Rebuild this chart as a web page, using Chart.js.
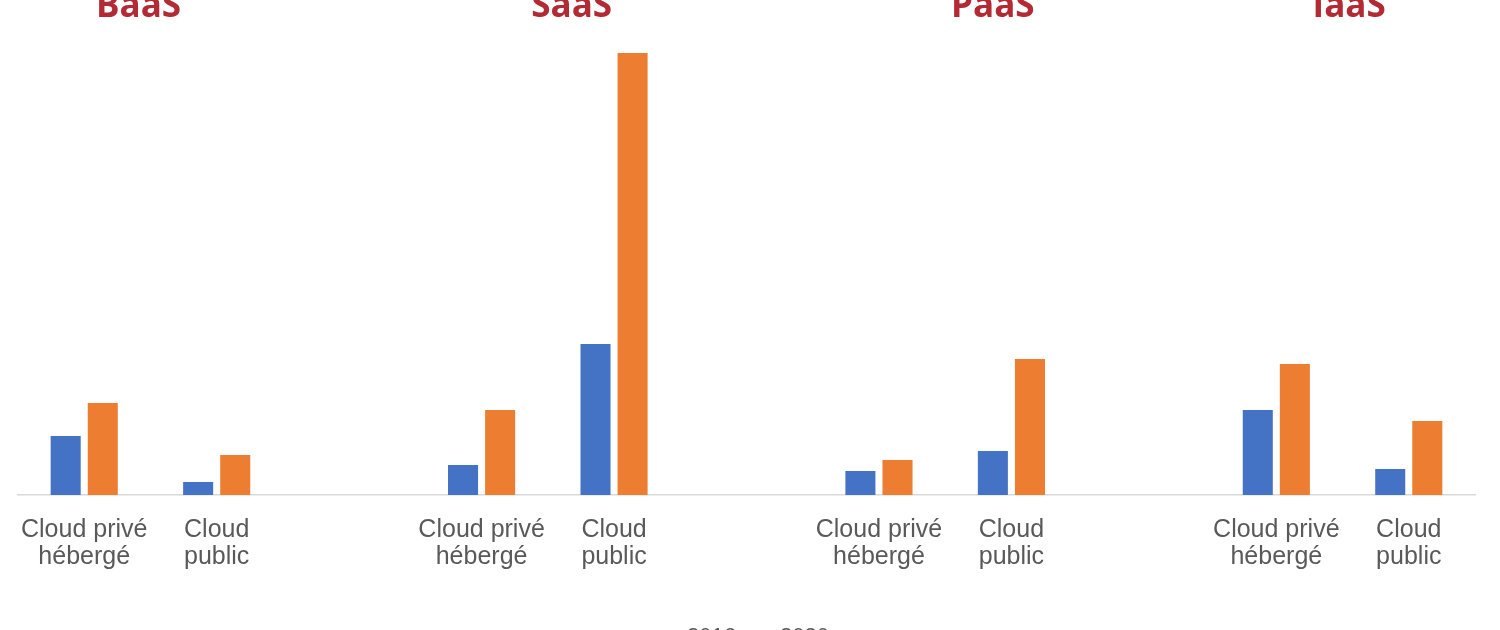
<!DOCTYPE html>
<html>
<head>
<meta charset="utf-8">
<script src="https://cdn.jsdelivr.net/npm/chart.js@4"></script>
<style>
  html, body { margin: 0; padding: 0; background: #fff; overflow: hidden; height: 630px; }
  .wrap { position: relative; width: 1500px; height: 658px; }
</style>
</head>
<body>
<div class="wrap"><canvas id="chart"></canvas></div>
<script>
// Categories (empty slots separate the four service groups)
const categories = [
  ["Cloud privé", "hébergé"], ["Cloud", "public"], "",
  ["Cloud privé", "hébergé"], ["Cloud", "public"], "",
  ["Cloud privé", "hébergé"], ["Cloud", "public"], "",
  ["Cloud privé", "hébergé"], ["Cloud", "public"]
];
const groupTitles = ["BaaS", "SaaS", "PaaS", "IaaS"];
const seriesNames = ["2016", "2020"];
const values2016 = [5.9, 1.3, null, 3.0, 15.1, null, 2.4, 4.4, null, 8.5, 2.6];
const values2020 = [9.2, 4.0, null, 8.5, 44.2, null, 3.5, 13.6, null, 13.1, 7.4];

// Where each group title sits along the category axis
const titleSlots = [0.41, 3.68, 6.86, 9.55];

const groupTitlePlugin = {
  id: "groupTitles",
  afterDraw(chart) {
    const ctx = chart.ctx;
    const x = chart.scales.x;
    ctx.save();
    ctx.fillStyle = "#B22A33";
    ctx.font = "bold 35px 'Open Sans', sans-serif";
    ctx.textAlign = "center";
    ctx.textBaseline = "alphabetic";
    groupTitles.forEach(function (t, i) {
      ctx.fillText(t, x.getPixelForValue(titleSlots[i]), 17);
    });
    ctx.restore();
  }
};

const ctx = document.getElementById("chart").getContext("2d");
new Chart(ctx, {
  type: "bar",
  data: {
    labels: categories,
    datasets: [
      {
        label: seriesNames[0],
        data: values2016,
        backgroundColor: "#4472C4",
        categoryPercentage: 0.56,
        barPercentage: 0.81,
      },
      {
        label: seriesNames[1],
        data: values2020,
        backgroundColor: "#ED7D31",
        categoryPercentage: 0.56,
        barPercentage: 0.81,
      },
    ],
  },
  options: {
    responsive: true,
    maintainAspectRatio: false,
    animation: false,
    layout: { padding: { top: 53, left: 18, right: 25, bottom: 0 } },
    scales: {
      x: {
        grid: { display: false },
        border: { display: true, color: "#D9D9D9", width: 1.5 },
        ticks: {
          color: "#595959",
          padding: 14,
          maxRotation: 0,
          autoSkip: false,
          font: { family: "'Liberation Sans', Arial, sans-serif", size: 25, lineHeight: 1.08 },
        },
        afterFit: function (scale) {
          scale.height = 110;
        },
      },
      y: {
        display: false,
        min: 0,
        max: 44.2,
      },
    },
    plugins: {
      legend: {
        position: "bottom",
        labels: {
          color: "#595959",
          boxWidth: 12,
          boxHeight: 8,
          padding: 21,
          font: { family: "'Liberation Sans', Arial, sans-serif", size: 22 },
        },
      },
      tooltip: { enabled: false },
    },
  },
  plugins: [groupTitlePlugin],
});
</script>
</body>
</html>
